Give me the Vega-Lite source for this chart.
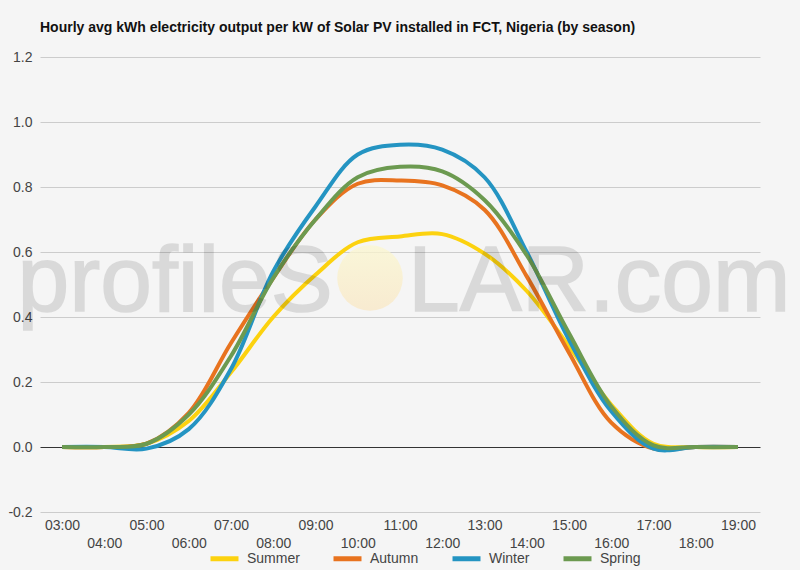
{
  "$schema": "https://vega.github.io/schema/vega-lite/v6.json",
  "width": 720,
  "height": 455,
  "autosize": {"type": "none"},
  "padding": {"left": 40, "top": 57, "right": 40, "bottom": 58},
  "background": "#f5f5f5",
  "config": {"view": {"stroke": null}, "font": "Liberation Sans"},
  "title": {
    "text": "Hourly avg kWh electricity output per kW of Solar PV installed in FCT, Nigeria (by season)",
    "anchor": "start",
    "frame": "group",
    "fontSize": 14,
    "fontWeight": "bold",
    "color": "#111111",
    "font": "Liberation Sans",
    "baseline": "alphabetic",
    "offset": 4
  },
  "layer": [
    {
      "data": {
        "values": [
          {"hour": 3, "season": "Summer", "kwh": 0},
          {"hour": 4, "season": "Summer", "kwh": 0},
          {"hour": 5, "season": "Summer", "kwh": 0.01},
          {"hour": 6, "season": "Summer", "kwh": 0.08},
          {"hour": 7, "season": "Summer", "kwh": 0.23},
          {"hour": 8, "season": "Summer", "kwh": 0.40},
          {"hour": 9, "season": "Summer", "kwh": 0.53},
          {"hour": 10, "season": "Summer", "kwh": 0.63},
          {"hour": 11, "season": "Summer", "kwh": 0.648},
          {"hour": 12, "season": "Summer", "kwh": 0.655},
          {"hour": 13, "season": "Summer", "kwh": 0.595},
          {"hour": 14, "season": "Summer", "kwh": 0.48},
          {"hour": 15, "season": "Summer", "kwh": 0.31},
          {"hour": 16, "season": "Summer", "kwh": 0.13},
          {"hour": 17, "season": "Summer", "kwh": 0.01},
          {"hour": 18, "season": "Summer", "kwh": 0},
          {"hour": 19, "season": "Summer", "kwh": 0},
          {"hour": 3, "season": "Autumn", "kwh": 0},
          {"hour": 4, "season": "Autumn", "kwh": 0},
          {"hour": 5, "season": "Autumn", "kwh": 0.01},
          {"hour": 6, "season": "Autumn", "kwh": 0.105},
          {"hour": 7, "season": "Autumn", "kwh": 0.32},
          {"hour": 8, "season": "Autumn", "kwh": 0.52},
          {"hour": 9, "season": "Autumn", "kwh": 0.70},
          {"hour": 10, "season": "Autumn", "kwh": 0.81},
          {"hour": 11, "season": "Autumn", "kwh": 0.82},
          {"hour": 12, "season": "Autumn", "kwh": 0.805},
          {"hour": 13, "season": "Autumn", "kwh": 0.73},
          {"hour": 14, "season": "Autumn", "kwh": 0.525},
          {"hour": 15, "season": "Autumn", "kwh": 0.29},
          {"hour": 16, "season": "Autumn", "kwh": 0.075},
          {"hour": 17, "season": "Autumn", "kwh": -0.005},
          {"hour": 18, "season": "Autumn", "kwh": 0},
          {"hour": 19, "season": "Autumn", "kwh": 0},
          {"hour": 3, "season": "Winter", "kwh": 0},
          {"hour": 4, "season": "Winter", "kwh": 0},
          {"hour": 5, "season": "Winter", "kwh": -0.005},
          {"hour": 6, "season": "Winter", "kwh": 0.055},
          {"hour": 7, "season": "Winter", "kwh": 0.24},
          {"hour": 8, "season": "Winter", "kwh": 0.54},
          {"hour": 9, "season": "Winter", "kwh": 0.74},
          {"hour": 10, "season": "Winter", "kwh": 0.90},
          {"hour": 11, "season": "Winter", "kwh": 0.93},
          {"hour": 12, "season": "Winter", "kwh": 0.915},
          {"hour": 13, "season": "Winter", "kwh": 0.83},
          {"hour": 14, "season": "Winter", "kwh": 0.60},
          {"hour": 15, "season": "Winter", "kwh": 0.33},
          {"hour": 16, "season": "Winter", "kwh": 0.11},
          {"hour": 17, "season": "Winter", "kwh": -0.005},
          {"hour": 18, "season": "Winter", "kwh": 0},
          {"hour": 19, "season": "Winter", "kwh": 0},
          {"hour": 3, "season": "Spring", "kwh": 0},
          {"hour": 4, "season": "Spring", "kwh": 0},
          {"hour": 5, "season": "Spring", "kwh": 0.01},
          {"hour": 6, "season": "Spring", "kwh": 0.10},
          {"hour": 7, "season": "Spring", "kwh": 0.28},
          {"hour": 8, "season": "Spring", "kwh": 0.52},
          {"hour": 9, "season": "Spring", "kwh": 0.70},
          {"hour": 10, "season": "Spring", "kwh": 0.83},
          {"hour": 11, "season": "Spring", "kwh": 0.862},
          {"hour": 12, "season": "Spring", "kwh": 0.848},
          {"hour": 13, "season": "Spring", "kwh": 0.76},
          {"hour": 14, "season": "Spring", "kwh": 0.59},
          {"hour": 15, "season": "Spring", "kwh": 0.35},
          {"hour": 16, "season": "Spring", "kwh": 0.125},
          {"hour": 17, "season": "Spring", "kwh": 0.005},
          {"hour": 18, "season": "Spring", "kwh": 0},
          {"hour": 19, "season": "Spring", "kwh": 0}
        ]
      },
      "mark": {"type": "line", "strokeWidth": 4, "interpolate": "catmull-rom"},
      "encoding": {
        "x": {
          "field": "hour",
          "type": "quantitative",
          "scale": {"domain": [2.479, 19.521], "nice": false, "zero": false},
          "axis": {
            "values": [3, 4, 5, 6, 7, 8, 9, 10, 11, 12, 13, 14, 15, 16, 17, 18, 19],
            "labelExpr": "(datum.value < 10 ? '0' : '') + datum.value + ':00'",
            "grid": false,
            "domain": false,
            "ticks": false,
            "labelFontSize": 14,
            "labelColor": "#444444",
            "labelFont": "Liberation Sans",
            "labelPadding": {"condition": {"test": "datum.value % 2 == 0", "value": 24}, "value": 6},
            "labelOverlap": false,
            "labelFlush": false,
            "labelBaseline": "top",
            "title": null
          }
        },
        "y": {
          "field": "kwh",
          "type": "quantitative",
          "scale": {"domain": [-0.2, 1.2], "nice": false, "zero": false},
          "axis": {
            "values": [-0.2, -0.1, 0, 0.1, 0.2, 0.3, 0.4, 0.5, 0.6, 0.7, 0.8, 0.9, 1.0, 1.1, 1.2],
            "labelExpr": "abs(round(datum.value * 10)) % 2 == 1 ? '' : replace(format(datum.value, '.1f'), '\u2212', '-')",
            "domain": false,
            "ticks": false,
            "labelFontSize": 14,
            "labelColor": "#444444",
            "labelFont": "Liberation Sans",
            "labelPadding": 8,
            "title": null,
            "gridColor": {
              "condition": [
                {"test": "abs(datum.value) < 0.001", "value": "#333333"},
                {"test": "abs(round(datum.value * 10)) % 2 == 1", "value": "#e6e6e6"}
              ],
              "value": "#cccccc"
            }
          }
        },
        "color": {
          "field": "season",
          "type": "nominal",
          "scale": {
            "domain": ["Summer", "Autumn", "Winter", "Spring"],
            "range": ["#fcd20f", "#e8731f", "#2494c2", "#6c9a50"]
          },
          "legend": {
            "orient": "none",
            "legendX": 168,
            "legendY": 485,
            "direction": "horizontal",
            "title": null,
            "symbolType": "stroke",
            "symbolSize": 784,
            "symbolStrokeWidth": 5,
            "labelFontSize": 14,
            "labelColor": "#444444",
            "labelFont": "Liberation Sans",
            "columnPadding": 23,
            "labelOffset": 6,
            "padding": 0
          }
        }
      }
    },
    {
      "data": {"values": [{"label": "sun"}]},
      "mark": {"type": "point", "filled": true, "size": 4300, "opacity": 0.75, "color": {"gradient": "linear", "x1": 0, "y1": 0, "x2": 0, "y2": 1, "stops": [{"offset": 0, "color": "#fbf7cf"}, {"offset": 1, "color": "#f9e7c4"}]}},
      "encoding": {
        "x": {"datum": 10.29, "type": "quantitative"},
        "y": {"datum": 0.52, "type": "quantitative"}
      }
    },
    {
      "data": {"values": [{"label": "profileS"}]},
      "mark": {"type": "text", "align": "right", "baseline": "alphabetic", "fontSize": 93, "font": "Liberation Sans", "fill": "#000000", "stroke": "#000000", "strokeWidth": 1.6, "opacity": 0.11},
      "encoding": {
        "text": {"field": "label"},
        "x": {"datum": 9.41, "type": "quantitative"},
        "y": {"datum": 0.42, "type": "quantitative"}
      }
    },
    {
      "data": {"values": [{"label": "LAR.com"}]},
      "mark": {"type": "text", "align": "left", "baseline": "alphabetic", "fontSize": 93, "font": "Liberation Sans", "fill": "#000000", "stroke": "#000000", "strokeWidth": 1.6, "opacity": 0.11},
      "encoding": {
        "text": {"field": "label"},
        "x": {"datum": 11.19, "type": "quantitative"},
        "y": {"datum": 0.42, "type": "quantitative"}
      }
    }
  ]
}
